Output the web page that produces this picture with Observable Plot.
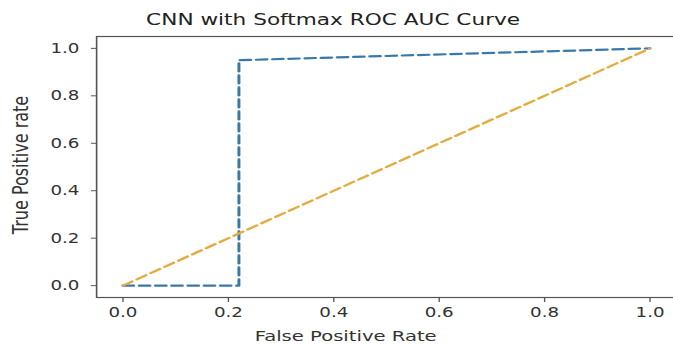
<!DOCTYPE html>
<html><head><meta charset="utf-8">
<script src="https://cdn.jsdelivr.net/npm/d3@7"></script>
<script src="https://cdn.jsdelivr.net/npm/@observablehq/plot@0.6"></script>
<style>html,body{margin:0;padding:0;background:#fff;overflow:hidden}#chart svg{display:block}</style>
</head><body><div id="chart"></div>
<script>
// ---- data ----
const fpr = [0, 0.22, 0.22, 1];
const tpr = [0, 0, 0.95, 1];
const diagX = [0, 1];
const diagY = [0, 1];
const xTicks = [0, 0.2, 0.4, 0.6, 0.8, 1.0];
const yTicks = [0, 0.2, 0.4, 0.6, 0.8, 1.0];
const titleText = "CNN with Softmax ROC AUC Curve";
const xLabelText = "False Positive Rate";
const yLabelText = "True Positive rate";

// ---- layout (drawn narrower, then stretched horizontally like the reference image) ----
const SX = 1.3514;
const W = 498, H = 344;
const roc = fpr.map((x, i) => ({x, y: tpr[i]}));
const diag = diagX.map((x, i) => ({x, y: diagY[i]}));
const font = "'DejaVu Sans', sans-serif";
const fmt = d3.format(".1f");

const chart = Plot.plot({
  width: W, height: H,
  marginLeft: 71, marginRight: -2, marginTop: 36, marginBottom: 47,
  style: {fontFamily: font, background: "#fff", color: "#333", overflow: "visible"},
  x: {domain: [-0.05, 1.05]},
  y: {domain: [-0.05, 1.05]},
  marks: [
    Plot.axisX({ticks: xTicks, tickFormat: fmt, tickSize: 5, tickPadding: 5, fontSize: 13.5, label: null, stroke: "#555", fill: "#333"}),
    Plot.axisY({ticks: yTicks, tickFormat: fmt, tickSize: 3.7, tickPadding: 9, fontSize: 13.5, label: null, stroke: "#555", fill: "#333"}),
    Plot.line(roc, {x: "x", y: "y", stroke: "#3a78a6", strokeWidth: 2.2, strokeDasharray: "8,4"}),
    Plot.line(diag, {x: "x", y: "y", stroke: "#e2ac3e", strokeWidth: 2.2, strokeDasharray: "8,4"}),
    Plot.frame({stroke: "#555", strokeWidth: 1.2}),
    Plot.text([titleText], {frameAnchor: "top", dx: -39.5, dy: -17, fontSize: 16, fill: "#222", lineAnchor: "middle", textAnchor: "middle"}),
    Plot.text([xLabelText], {frameAnchor: "bottom", dx: -30.2, dy: 39, fontSize: 14.5, fill: "#333", lineAnchor: "middle", textAnchor: "middle"}),
    Plot.text([yLabelText], {frameAnchor: "left", dx: -56.2, dy: -2, rotate: -90, fontSize: 16, fill: "#333", lineAnchor: "middle", textAnchor: "middle"})
  ]
});

chart.setAttribute("viewBox", `0 0 ${W} ${H}`);
chart.setAttribute("preserveAspectRatio", "none");
chart.setAttribute("width", Math.round(W * SX));
chart.setAttribute("height", H);
chart.style.width = "673px";
chart.style.height = H + "px";
chart.style.maxWidth = "none";
document.getElementById("chart").appendChild(chart);
</script>
</body></html>
